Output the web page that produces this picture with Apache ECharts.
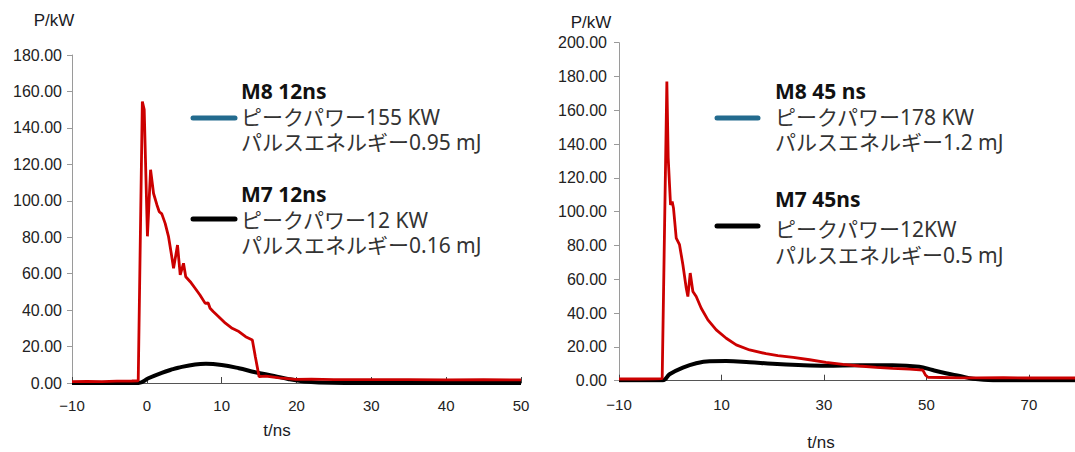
<!DOCTYPE html>
<html>
<head>
<meta charset="utf-8">
<script src="https://cdn.jsdelivr.net/npm/echarts@6/dist/echarts.min.js"></script>
<style>
html,body{margin:0;padding:0;background:#fff;}
#chart{width:1075px;height:452px;}
</style>
</head>
<body>
<div id="chart"></div>
<script>
// ---- Data (t in ns, P in kW) ----
const m8_12ns = [[-10,0.8],[-8,0.9],[-6,0.8],[-4,1.0],[-2,1.1],[-1.15,1.2],[-0.6,154.5],[-0.35,150],[0.08,80.5],[0.5,117],[0.9,104],[1.35,97.7],[1.66,94],[2.0,92.8],[2.45,87.6],[2.9,80.3],[3.26,71.2],[3.57,62.9],[4.1,75.7],[4.46,59.3],[4.9,65.7],[5.2,58.3],[5.8,55.6],[6.45,52],[7.1,48.3],[7.8,43.7],[8.2,43.9],[8.45,41],[8.9,39.1],[9.6,36.4],[10.5,32.8],[11.4,30],[12.3,28.2],[13.2,25.4],[14.1,23.6],[14.5,14.4],[15.0,3.5],[15.9,3.8],[17.7,2.8],[19.9,2.0],[22,2.1],[25,1.9],[30,1.8],[35,1.9],[40,1.7],[45,1.8],[50,1.7]];
const m7_12ns = [[-10,0],[-1.1,0],[0.2,2.6],[2,5.6],[3.5,7.6],[4.2,8.4],[6.45,10.2],[7.9,10.6],[10,9.9],[12.3,8.1],[14.5,5.9],[17,3.9],[19,2.1],[21,0.8],[23,0.3],[30,0],[50,0]];
const m8_45ns = [[-10,1],[-6,1],[-3,1.1],[-1.57,1.2],[-0.66,177],[-0.4,132],[-0.14,116],[0.06,104],[0.38,106],[0.64,102],[1.17,84.4],[1.81,80.5],[2.47,68.6],[3.12,54.8],[3.44,49.8],[3.9,63.7],[4.42,52.8],[5.07,49.8],[6.05,42.9],[7.35,36],[8.98,30.1],[10.93,25.1],[12.88,21.2],[15.49,18.2],[18.7,16],[21,14.8],[24,13.8],[27.2,12.4],[30.4,10.9],[33.7,9.7],[36.9,8.7],[40.2,7.9],[43.4,7.3],[46.7,6.8],[49.3,6.3],[49.8,3.4],[50.3,2],[53,1.9],[56.5,1.7],[60,1.7],[65,1.8],[70,1.6],[75,1.7],[79,1.6]];
const m7_45ns = [[-10,0.2],[-1.44,0.3],[-0.14,3.8],[2.47,7.7],[5.07,10.3],[7.68,11.5],[10.93,11.6],[15.49,10.9],[20,10],[25,9.3],[30.4,8.9],[36.9,9.2],[43.4,9.2],[48.6,8.3],[51.2,6.3],[53.8,4.4],[56.5,2.8],[59.1,1.2],[63,0.3],[70,0.2],[79,0.2]];

// ---- Text ----
const axisNameY = 'P/kW';
const axisNameX = 't/ns';
const leftTitles = ['M8 12ns', 'M7 12ns'];
const leftPower = ['ピークパワー155 KW', 'ピークパワー12 KW'];
const leftEnergy = ['パルスエネルギー0.95 mJ', 'パルスエネルギー0.16 mJ'];
const rightTitles = ['M8 45 ns', 'M7 45ns'];
const rightPower = ['ピークパワー178 KW', 'ピークパワー12KW'];
const rightEnergy = ['パルスエネルギー1.2 mJ', 'パルスエネルギー0.5 mJ'];
const swatchColors = ['#236b8e', '#000000'];

const chart = echarts.init(document.getElementById('chart'), null, {renderer: 'svg'});

const LFONT = "'Noto Sans', 'Noto Sans CJK JP', sans-serif";
const AFONT = "'Liberation Sans', Arial, sans-serif";
const LSIZE = 21;

function yAxisCfg(grid, max, margin){
  return {
    type: 'value', gridIndex: grid, min: 0, max: max, interval: 20,
    axisLine: {show: true, onZero: false, lineStyle: {color: '#9a9a9a', width: 1}},
    axisTick: {show: true, length: 5, lineStyle: {color: '#9a9a9a'}},
    splitLine: {show: false},
    axisLabel: {color: '#222', fontSize: 16, fontFamily: AFONT, margin: margin,
      formatter: v => v.toFixed(2)}
  };
}
function xAxisCfg(grid, max, interval, margin){
  return {
    type: 'value', gridIndex: grid, min: -10, max: max, interval: interval,
    axisLine: {show: true, onZero: false, lineStyle: {color: '#555', width: 1}},
    axisTick: {show: true, inside: true, length: 6, lineStyle: {color: '#444'}},
    splitLine: {show: false},
    axisLabel: {color: '#222', fontSize: 15, fontFamily: AFONT, margin: margin,
      showMaxLabel: grid === 0, formatter: v => String(v).replace('-', '\u2212')}
  };
}

function txt(x, y, t, bold){
  return {type: 'text', x: x, y: y, style: {text: t,
    font: (bold ? 'bold ' : '') + LSIZE + 'px ' + LFONT,
    fill: bold ? '#111' : '#333', verticalAlign: 'middle', textVerticalAlign: 'middle'}};
}

// ys: middle y of the title, power and energy lines for each block
function legendBlock(x0, x1, tx, lineYs, ys, titles, power, energy){
  const els = [];
  for (let i = 0; i < 2; i++) {
    els.push({type: 'line', shape: {x1: x0, y1: lineYs[i], x2: x1, y2: lineYs[i]},
      style: {stroke: swatchColors[i], lineWidth: 5, lineCap: 'round'}});
    els.push(txt(tx, ys[i][0], titles[i], true));
    els.push(txt(tx, ys[i][1], power[i], false));
    els.push(txt(tx, ys[i][2], energy[i], false));
  }
  return els;
}

function nameText(x, y, t){
  return {type: 'text', x: x, y: y, style: {text: t, font: '17px ' + AFONT, fill: '#1a1a24', align: 'center', textAlign: 'center', verticalAlign: 'middle', textVerticalAlign: 'middle'}};
}

const graphics = [].concat(
  legendBlock(193, 235, 241, [118, 219], [[91, 116.5, 142], [194, 219.5, 245]], leftTitles, leftPower, leftEnergy),
  legendBlock(717, 758, 775, [118, 226], [[91.3, 116.8, 142.3], [199.2, 229.2, 254.7]], rightTitles, rightPower, rightEnergy),
  [nameText(54, 20, axisNameY), nameText(277, 430, axisNameX), nameText(591, 22, axisNameY), nameText(821, 442, axisNameX)]
);

const option = {
  animation: false,
  backgroundColor: '#fff',
  grid: [
    {left: 72, top: 55, width: 449, height: 328, containLabel: false},
    {left: 619, top: 42.7, width: 456, height: 338, containLabel: false}
  ],
  xAxis: [xAxisCfg(0, 50, 10, 15), xAxisCfg(1, 79, 20, 16)],
  yAxis: [yAxisCfg(0, 180, 10), yAxisCfg(1, 200, 12)],
  series: [
    {type: 'line', name: leftTitles[1], xAxisIndex: 0, yAxisIndex: 0, data: m7_12ns, showSymbol: false, smooth: 0.4,
      lineStyle: {color: '#000', width: 4}, z: 2},
    {type: 'line', name: leftTitles[0], xAxisIndex: 0, yAxisIndex: 0, data: m8_12ns, showSymbol: false,
      lineStyle: {color: '#cc0000', width: 2.8}, z: 3},
    {type: 'line', name: rightTitles[1], xAxisIndex: 1, yAxisIndex: 1, data: m7_45ns, showSymbol: false, smooth: 0.4,
      lineStyle: {color: '#000', width: 4}, z: 2},
    {type: 'line', name: rightTitles[0], xAxisIndex: 1, yAxisIndex: 1, data: m8_45ns, showSymbol: false,
      lineStyle: {color: '#cc0000', width: 2.8}, z: 3}
  ],
  graphic: graphics
};
chart.setOption(option);
</script>
</body>
</html>
